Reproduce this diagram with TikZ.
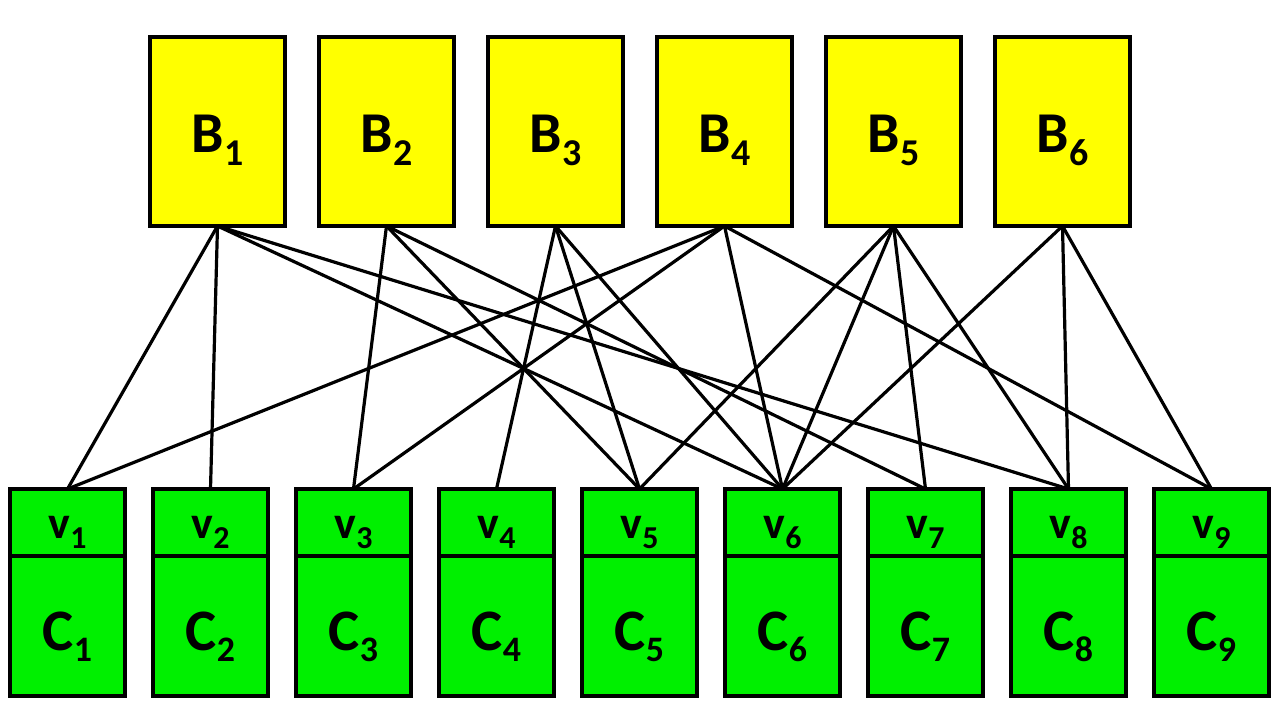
\documentclass[tikz,border=0pt]{standalone}
\usepackage{fontspec}
\setmainfont{Carlito}
\definecolor{boxyellow}{RGB}{255,255,0}
\definecolor{boxgreen}{RGB}{0,240,0}
\newcommand\lowsub[3]{\raisebox{-#1bp}{\fontsize{#2}{#2}\selectfont #3}}
\begin{document}
\begin{tikzpicture}[x=1bp,y=-1bp,
  bbox/.style={draw=black,line width=4bp,fill=boxyellow,minimum width=135bp,minimum height=189bp,inner sep=0pt,outer sep=0pt},
  vbox/.style={draw=black,line width=4bp,fill=boxgreen,minimum width=115bp,minimum height=67bp,inner sep=0pt,outer sep=0pt},
  cbox/.style={draw=black,line width=4bp,fill=boxgreen,minimum width=115bp,minimum height=140bp,inner sep=0pt,outer sep=0pt},
  blabel/.style={anchor=base,inner sep=0pt,font=\bfseries\fontsize{58}{58}\selectfont},
  vlabel/.style={anchor=base,inner sep=0pt,font=\bfseries\fontsize{46}{46}\selectfont},
  clabel/.style={anchor=base,inner sep=0pt,font=\bfseries\fontsize{59}{59}\selectfont},
  edge/.style={draw=black,line width=3.2bp}]
\useasboundingbox (0,0) rectangle (1280,720);
\fill[white] (0,0) rectangle (1280,720);
% top boxes
\foreach \i in {1,...,6}{
  \pgfmathsetmacro{\xx}{217.5+169*(\i-1)}
  \node[bbox] (B\i) at (\xx,131.5) {};
}
% bottom boxes
\foreach \i in {1,...,9}{
  \pgfmathsetmacro{\xx}{67.5+143*(\i-1)}
  \node[vbox] (v\i) at (\xx,522.5) {};
  \node[cbox] (C\i) at (\xx,626) {};
}
% connectors
\foreach \b/\v in {1/1,1/2,1/6,1/8,2/3,2/5,2/7,3/4,3/5,3/6,4/1,4/3,4/6,4/9,5/5,5/6,5/7,5/8,6/6,6/8,6/9}
  \draw[edge] (B\b.south) -- (v\v.north);
% labels
\foreach \i in {1,...,6}{
  \pgfmathsetmacro{\xx}{217.5+169*(\i-1)}
  \node[blabel] (LB\i) at (\xx,153) {B\lowsub{13}{38}{\bfseries\i}};
}
\foreach \i in {1,...,9}{
  \pgfmathsetmacro{\xx}{67.5+143*(\i-1)}
  \node[vlabel] (Lv\i) at (\xx,538) {v\lowsub{10}{32}{\bfseries\i}};
  \node[clabel] (LC\i) at (\xx,650) {C\lowsub{11}{36}{\bfseries\i}};
}
\end{tikzpicture}
\end{document}
